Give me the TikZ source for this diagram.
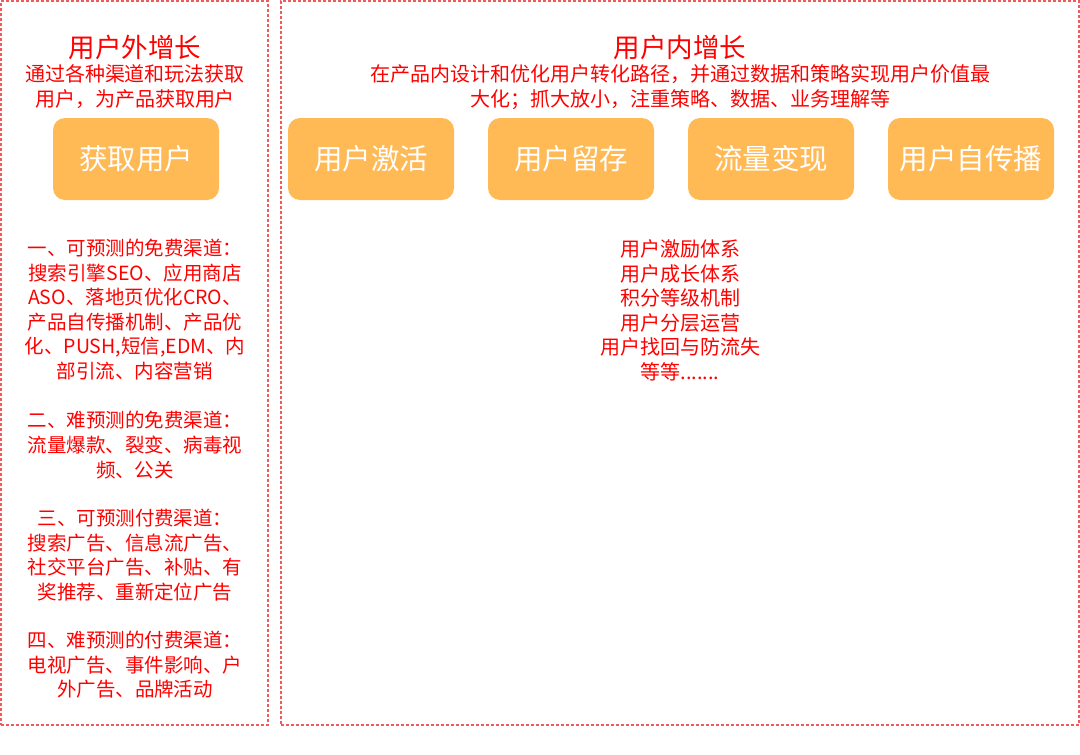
\documentclass[tikz,border=0pt]{standalone}
\usepackage{fontspec}
\setmainfont{Noto Sans CJK SC}
\definecolor{framered}{HTML}{F05A5A}
\definecolor{pillorange}{HTML}{FFB955}
\definecolor{txtred}{HTML}{FF0000}
\tikzset{
  frame/.style={draw=framered, line width=1.2pt, dash pattern=on 3pt off 2pt, inner sep=0pt},
  pill/.style={fill=pillorange, rounded corners=12pt, minimum width=166pt, minimum height=82pt, text=white, font=\fontsize{28.5}{34}\selectfont, inner sep=0pt},
  title/.style={text=txtred, font=\fontsize{26.5}{32}\selectfont, inner sep=0pt},
  sub/.style={text=txtred, font=\fontsize{20}{25}\selectfont, align=center, inner sep=0pt},
  list/.style={text=txtred, font=\fontsize{19.5}{24.6}\selectfont, align=center, inner sep=0pt}
}
\begin{document}
\begin{tikzpicture}[x=1pt,y=-1pt]
\useasboundingbox (0,0) rectangle (1080,755);
% frames
\node[frame, minimum width=267pt, minimum height=724pt] (leftframe) at (134.5,363) {};
\node[frame, minimum width=798pt, minimum height=724pt] (rightframe) at (680,363) {};
% left column
\node[title] (ltitle) at (135,47) {用户外增长};
\node[sub] (lsub) at (135,87) {通过各种渠道和玩法获取\\用户，为产品获取用户};
\node[pill] (acq) at (136,159) {获取用户};
\node[list] (p1) at (135,309.5) {一、可预测的免费渠道：\\搜索引擎SEO、应用商店\\ASO、落地页优化CRO、\\产品自传播机制、产品优\\化、PUSH,短信,EDM、内\\部引流、内容营销};
\node[list] (p2) at (135,445) {二、难预测的免费渠道：\\流量爆款、裂变、病毒视\\频、公关};
\node[list] (p3) at (135,555) {三、可预测付费渠道：\\搜索广告、信息流广告、\\社交平台广告、补贴、有\\奖推荐、重新定位广告};
\node[list] (p4) at (135,665) {四、难预测的付费渠道：\\电视广告、事件影响、户\\外广告、品牌活动};
% right column
\node[title] (rtitle) at (680,47) {用户内增长};
\node[sub] (rsub) at (680,87) {在产品内设计和优化用户转化路径，并通过数据和策略实现用户价值最\\大化；抓大放小，注重策略、数据、业务理解等};
\node[pill] (act) at (371,159) {用户激活};
\node[pill] (ret) at (571,159) {用户留存};
\node[pill] (mon) at (771,159) {流量变现};
\node[pill] (ref) at (971,159) {用户自传播};
\node[list, font=\fontsize{20}{24.5}\selectfont] (rlist) at (680,310.5) {用户激励体系\\用户成长体系\\积分等级机制\\用户分层运营\\用户找回与防流失\\等等.......};
\end{tikzpicture}
\end{document}
